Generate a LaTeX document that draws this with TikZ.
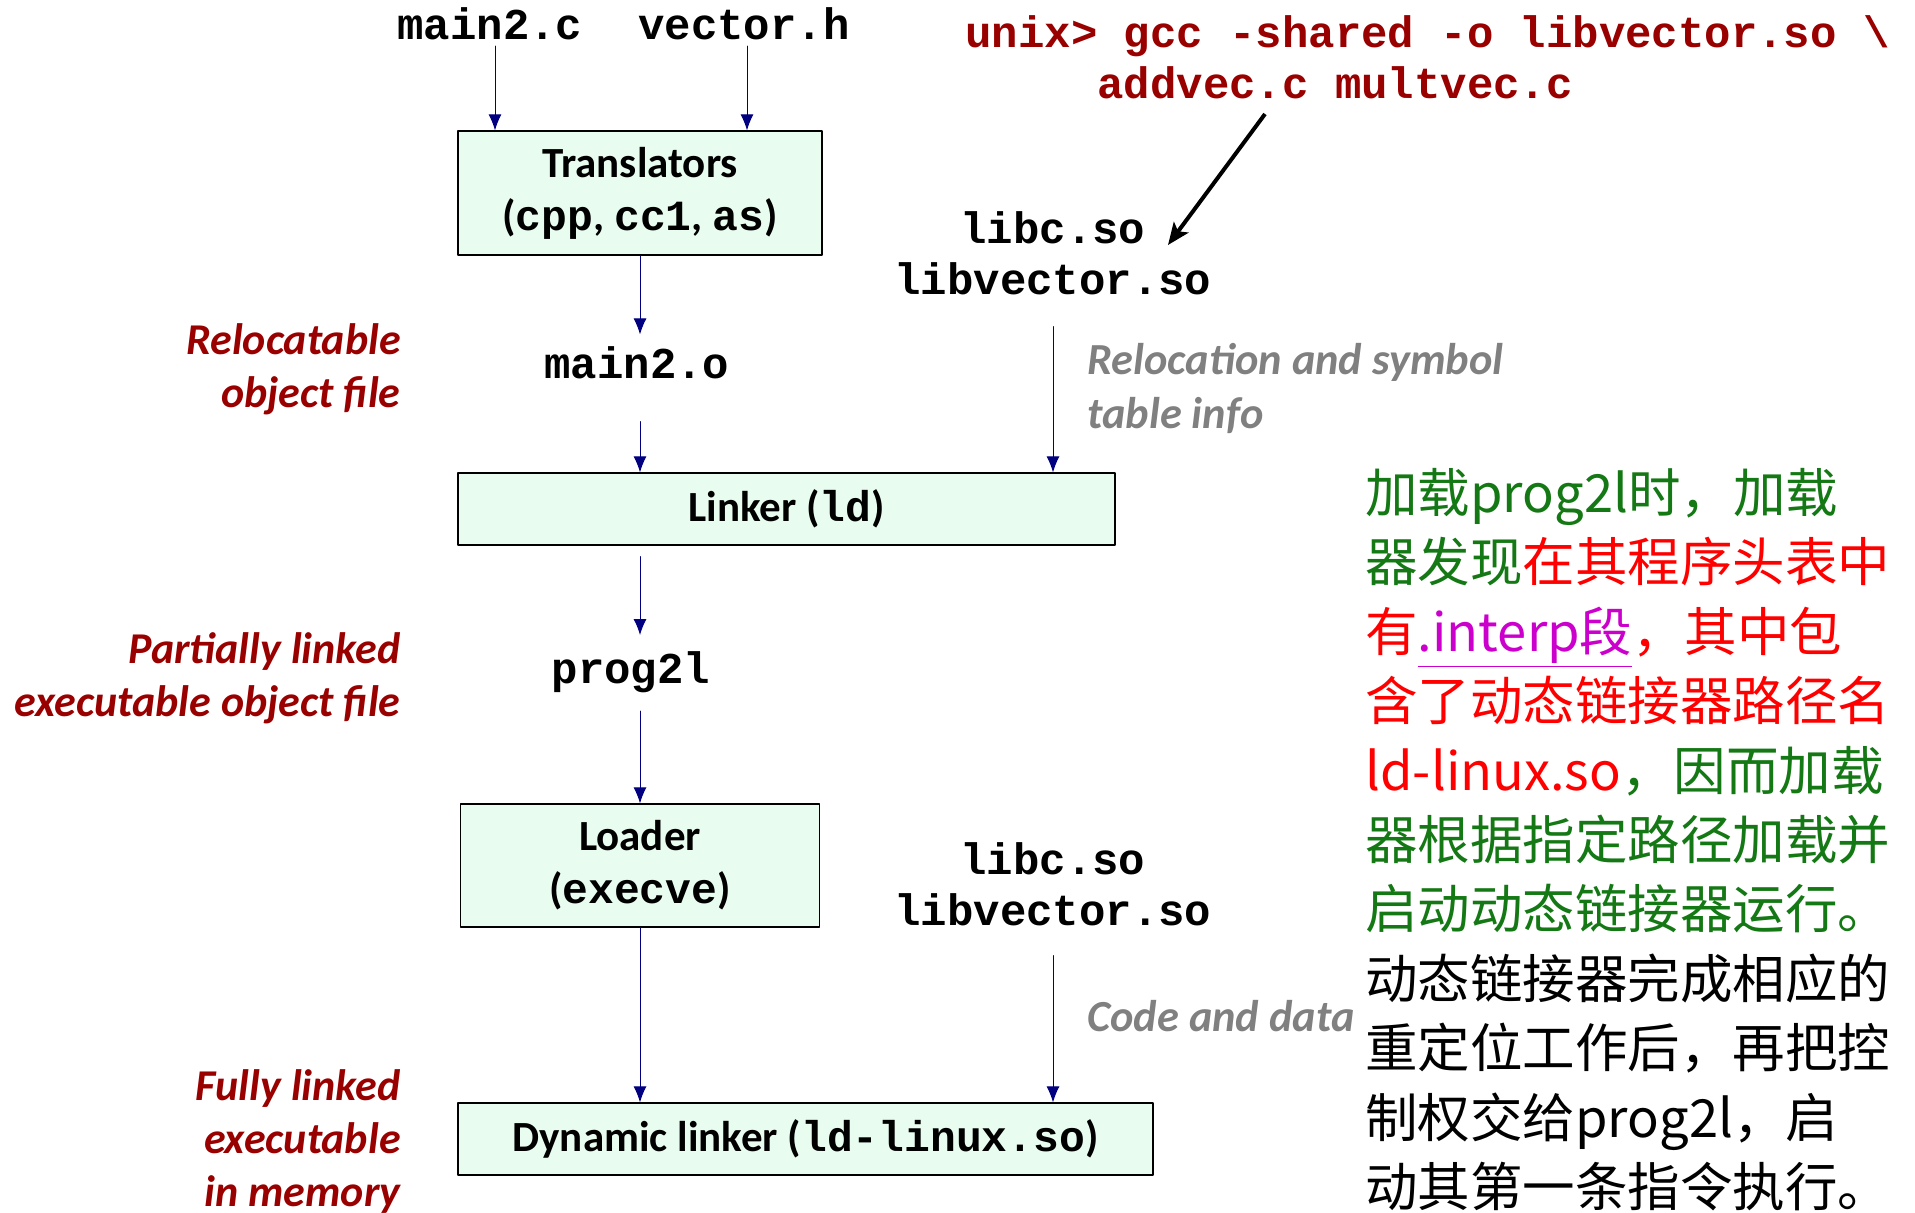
\documentclass[tikz,border=0pt]{standalone}
\usepackage{fontspec}
\setmainfont{Carlito}
\setmonofont{Liberation Mono}
\newfontfamily\cjk{Noto Sans CJK SC}
\usetikzlibrary{arrows.meta}
\definecolor{navy}{RGB}{0,0,128}
\definecolor{boxgreen}{RGB}{232,253,240}
\definecolor{darkred}{RGB}{153,0,0}
\definecolor{infogray}{RGB}{128,128,128}
\definecolor{cngreen}{RGB}{20,120,20}
\definecolor{cnpurple}{RGB}{204,0,204}

\begin{document}
\begin{tikzpicture}[x=0.5pt,y=-0.5pt,line cap=round,line join=round,
  stage/.style={draw=black,line width=0.6pt,fill=boxgreen,inner sep=0pt,align=center,
    font=\fontsize{21.5pt}{26.5pt}\selectfont\bfseries},
  fname/.style={inner sep=2pt,align=center,font=\fontsize{22pt}{25.5pt}\selectfont\ttfamily\bfseries},
  kind/.style={inner sep=0pt,anchor=east,align=right,text=darkred,
    font=\fontsize{22pt}{26.5pt}\selectfont\bfseries\itshape},
  info/.style={inner sep=0pt,anchor=west,align=left,text=infogray,
    font=\fontsize{22.2pt}{27pt}\selectfont\bfseries\itshape},
  flow/.style={draw=navy,line width=0.5pt,-{Latex[length=8pt,width=6.5pt]}},
  cmdarrow/.style={draw=black,line width=2pt,line cap=butt,-{Stealth[length=11pt,width=9pt,inset=2.5pt]}}]
  \useasboundingbox (0,0) rectangle (1915,1212);
  % 各个阶段的方框
  \node[stage,minimum width=182pt,minimum height=62pt] (trans) at (640,193) {Translators\\(\texttt{cpp}, \texttt{cc1}, \texttt{as})};
  \node[stage,minimum width=328.5pt,minimum height=36pt] (linker) at (786.5,509) {Linker (\texttt{ld})};
  \node[stage,minimum width=179.5pt,minimum height=61.5pt] (loader) at (640,865.5) {Loader\\(\texttt{execve})};
  \node[stage,minimum width=347.5pt,minimum height=36pt] (dyn) at (805.5,1139) {Dynamic linker (\texttt{ld-linux.so})};
  % 文件名
  \node[fname] (main2c) at (490,23.5) {main2.c};
  \node[fname] (vectorh) at (744,23.5) {vector.h};
  \node[fname] (main2o) at (637,363) {main2.o};
  \node[fname] (prog2l) at (631,672) {prog2l};
  \node[fname] (libs1) at (1053,253.5) {libc.so\\libvector.so};
  \node[fname] (libs2) at (1053,884.5) {libc.so\\libvector.so};
  % 左侧说明
  \node[kind] (relo) at (401,369) {Relocatable\\object file};
  \node[kind] (part) at (401,678) {Partially linked\\executable object file};
  \node[kind] (full) at (401,1141) {Fully linked\\executable\\in memory};
  % 右侧灰色说明
  \node[info] (syminfo) at (1087,388) {Relocation and symbol\\table info};
  \node[info] (codedata) at (1087,1016) {Code and data};
  % 生成共享库的命令
  \node[fname,inner sep=0pt,anchor=west,align=left,text=darkred] (cmd) at (965,57)
    {unix> gcc -shared -o libvector.so \textbackslash\\\hphantom{unix>}addvec.c multvec.c};
  \coordinate (cmdfoot) at (1265,114);
  \coordinate (libtip) at (1168,245);
  \draw[cmdarrow] (cmdfoot) -- (libtip);
  % 流程箭头
  \draw[flow,shorten <=1pt] ([xshift=2.5pt]main2c.south) -- ([xshift=2.5pt]main2c.south |- trans.north);
  \draw[flow,shorten <=1pt] ([xshift=1.5pt]vectorh.south) -- ([xshift=1.5pt]vectorh.south |- trans.north);
  \draw[flow,shorten >=4pt] (trans.south) -- (trans.south |- main2o.north);
  \draw[flow,shorten <=19pt] (trans.south |- main2o.south) -- (trans.south |- linker.north);
  \draw[flow,shorten <=13.5pt] (libs1.south) -- (libs1.south |- linker.north);
  \draw[flow,shorten <=5.5pt,shorten >=6pt] (trans.south |- linker.south) -- (trans.south |- prog2l.north);
  \draw[flow,shorten <=7pt] (trans.south |- prog2l.south) -- (loader.north);
  \draw[flow] (loader.south) -- (loader.south |- dyn.north);
  \draw[flow,shorten <=12.5pt] (libs2.south) -- (libs2.south |- dyn.north);
  % 中文注释
  \node[inner sep=0pt,anchor=north west,align=left,font=\cjk\fontsize{26.25pt}{34.7pt}\selectfont] (note) at (1365,468)
    {{\color{cngreen}加载prog2l时，加载}\\
     {\color{cngreen}器发现}{\color{red}在其程序头表中}\\
     {\color{red}有}{\color{cnpurple}\underline{.interp段}}{\color{red}，其中包}\\
     {\color{red}含了动态链接器路径名}\\
     {\color{red}ld-linux.so}{\color{cngreen}，因而加载}\\
     {\color{cngreen}器根据指定路径加载并}\\
     {\color{cngreen}启动动态链接器运行。}\\
     动态链接器完成相应的\\
     重定位工作后，再把控\\
     制权交给prog2l，启\\
     动其第一条指令执行。};
\end{tikzpicture}
\end{document}
